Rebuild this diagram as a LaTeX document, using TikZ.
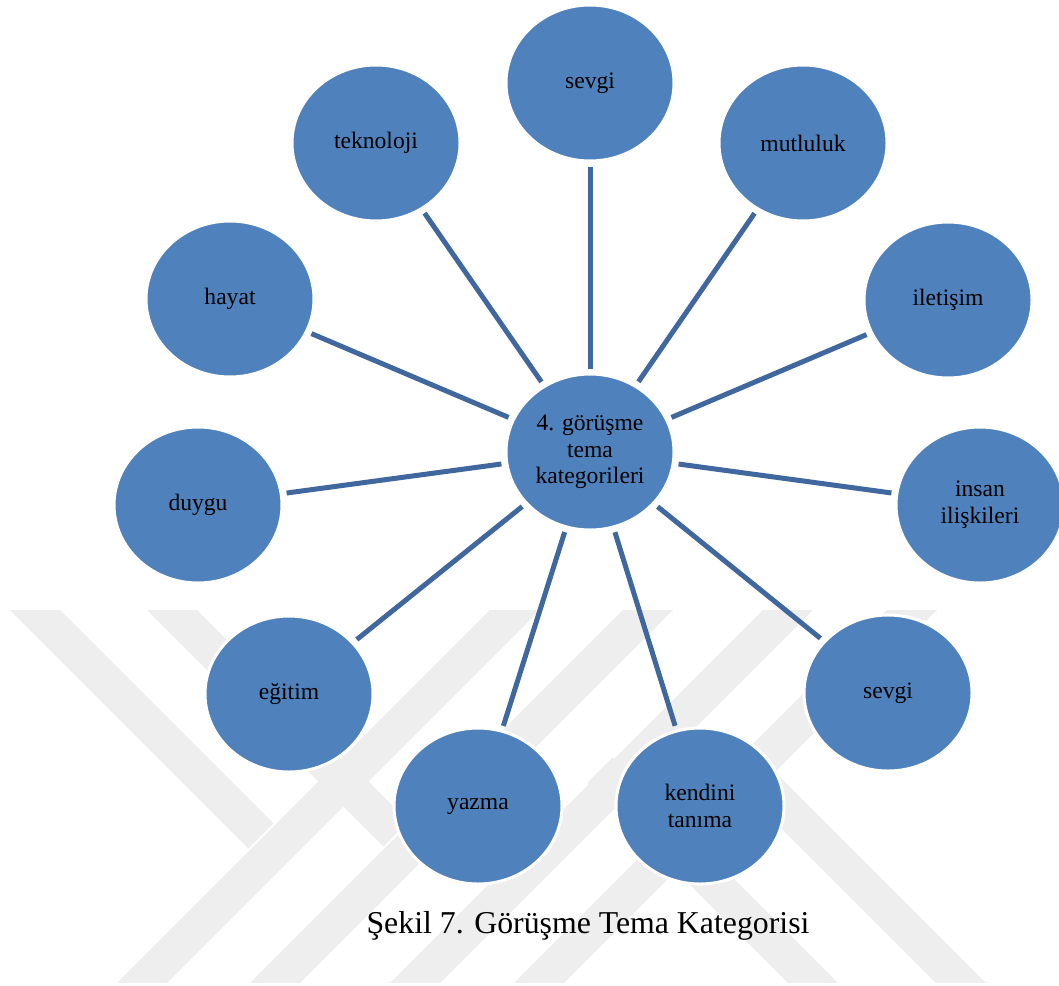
\documentclass[tikz,border=0pt]{standalone}
\usepackage{fontspec}
\setmainfont{Liberation Serif}
\usetikzlibrary{shapes.geometric}
\definecolor{bubblefill}{HTML}{4F81BD}
\definecolor{spokeline}{HTML}{41689E}
\definecolor{markgray}{HTML}{EEEEEE}

\begin{document}
\begin{tikzpicture}[x=1pt,y=-1pt,
  bubble/.style={ellipse,fill=bubblefill,draw=white,line width=3pt,
    minimum width=168pt,minimum height=156pt,inner sep=0pt,align=center,
    font=\fontsize{23.6}{26.7}\selectfont},
  spoke/.style={-,line width=5pt,draw=spokeline,shorten <=4pt,shorten >=4pt},
  band/.style={line width=35.4pt,draw=markgray}]
\useasboundingbox (0,0) rectangle (1059,985);
% watermark in the back
\begin{scope}
\clip (0,610) rectangle (1059,982);
\foreach \b in {115,248,388,512}
  \draw[band] (\b,1010) -- ++(440,-440);
\draw[band] (10,585) -- (261,836);
\draw[band] (147,585) -- (396,834);
\draw[band] (600,770) -- (850,1020);
\draw[band] (736,758) -- (998,1020);
\end{scope}
%
\node (t0) [bubble] at (590,452) {4. görüşme\\tema\\kategorileri};
\node (t1) [bubble] at (590,83) {sevgi};
\node (t2) [bubble] at (803,143) {mutluluk};
\node (t3) [bubble] at (948,300) {iletişim};
\node (t4) [bubble] at (980,505) {insan\\ilişkileri};
\node (t5) [bubble] at (888,693) {sevgi};
\node (t6) [bubble] at (700,806) {kendini\\tanıma};
\node (t7) [bubble] at (478,806) {yazma};
\node (t8) [bubble] at (289,694) {eğitim};
\node (t9) [bubble] at (198,505) {duygu};
\node (t10) [bubble] at (230,299) {hayat};
\node (t11) [bubble] at (376,143) {teknoloji};
%
\node (cap) [anchor=base,font=\fontsize{31.8}{36}\selectfont] at (588,933) {Şekil 7. Görüşme Tema Kategorisi};
%
\path[spoke](t0) edge (t1);
\path[spoke](t0) edge (t2);
\path[spoke](t0) edge (t3);
\path[spoke](t0) edge (t4);
\path[spoke](t0) edge (t5);
\path[spoke](t0) edge (t6);
\path[spoke](t0) edge (t7);
\path[spoke](t0) edge (t8);
\path[spoke](t0) edge (t9);
\path[spoke](t0) edge (t10);
\path[spoke](t0) edge (t11);
\end{tikzpicture}
\end{document}
